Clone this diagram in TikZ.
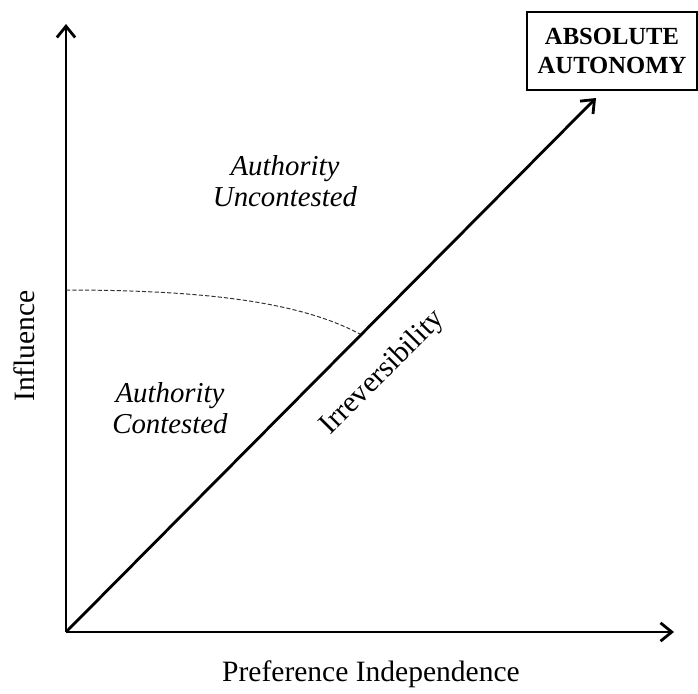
\documentclass[tikz,border=0pt]{standalone}
\usepackage{fontspec}
\setmainfont{Liberation Serif}
\usetikzlibrary{arrows.meta}
\begin{document}
\begin{tikzpicture}[x=0.025cm,y=-0.025cm,
    axis/.style={line width=2pt,-{Straight Barb[length=8pt,width=13pt]}},
    region/.style={font=\fontsize{20.5}{22}\selectfont\itshape,align=center},
    axislabel/.style={font=\fontsize{21}{24}\selectfont}]
  \useasboundingbox (0,0) rectangle (698,693);
  \coordinate (O) at (66,632);
  \coordinate (ytop) at (66,24);
  \coordinate (xend) at (674,632);
  \coordinate (tip) at (596,98);
  \coordinate (dstart) at (66,290);
  \coordinate (dend) at (360,334);
  \draw[axis] (O) -- (ytop);
  \draw[axis] (O) -- (xend);
  \draw[axis] (O) -- (tip);
  % boundary between the two regions
  \draw[line width=0.7pt,dashed,dash pattern=on 3pt off 1.5pt,black!80] (dstart) .. controls (220,290) and (305,305) .. (dend);
  \node[axislabel] (xlab) at (371,674) {Preference Independence};
  \node[axislabel,rotate=90] (ylab) at (24,346) {Influence};
  \node[region] (unc) at (285,181) {Authority\\Uncontested};
  \node[region] (con) at (170,408) {Authority\\Contested};
  \node[axislabel,rotate=45.2] (irr) at (383,373) {Irreversibility};
  \node[draw,line width=1.3pt,minimum width=4.25cm,minimum height=1.95cm,align=center,
        font=\fontsize{17.5}{20}\selectfont\bfseries] (abs) at (612,51) {ABSOLUTE\\AUTONOMY};
\end{tikzpicture}
\end{document}
